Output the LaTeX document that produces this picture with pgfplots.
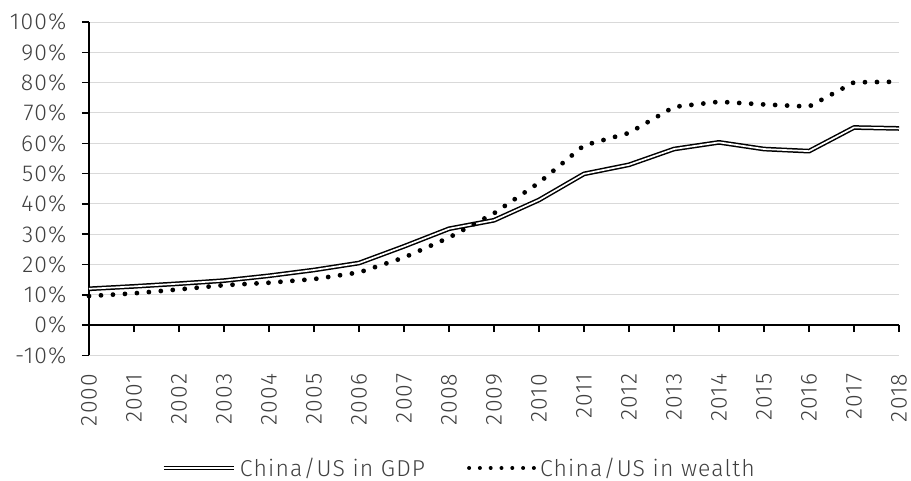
\documentclass[border=0pt]{standalone}
\usepackage{fontspec}
\setmainfont{Fira Sans}[UprightFont={* Light}, LetterSpace=5]
\usepackage{pgfplots}
\usepackage{pgfplotstable}
\pgfplotsset{compat=1.18}
\definecolor{txt}{HTML}{404040}
\definecolor{gridc}{HTML}{D9D9D9}
\pgfplotsset{
  gdpimg/.style={legend image code/.code={\draw[##1] (0pt,0pt) -- (70pt,0pt);}},
  wlthimg/.style={legend image code/.code={\draw[##1, line width=4pt, dash pattern=on 0pt off 10.8pt] (0pt,0pt) -- (65pt,0pt);}},
}
\pgfplotstableread{
year gdp wealth
2000 12.0 9.6
2001 12.8 10.5
2002 13.7 11.8
2003 14.7 13.2
2004 16.3 14.0
2005 18.2 15.2
2006 20.5 17.4
2007 26.0 22.3
2008 31.8 28.9
2009 34.6 36.9
2010 41.3 47.0
2011 49.9 59.3
2012 52.9 63.4
2013 58.1 72.0
2014 60.3 73.7
2015 58.1 72.8
2016 57.4 72.1
2017 65.2 80.1
2018 64.9 80.3
}\data
\begin{document}
\begin{tikzpicture}
\begin{axis}[
  at={(0pt,0pt)}, anchor=south west,
  scale only axis, width=810pt, height=333.5pt,
  xmin=2000, xmax=2018, ymin=-10, ymax=100,
  axis x line=middle, axis y line=left,
  axis line style={-, line width=1.5pt, black},
  hide obscured x ticks=false,
  hide obscured y ticks=false,
  tick align=outside,
  major tick length=7pt,
  tick style={line width=1.5pt, black},
  xtick={2000,2001,...,2018},
  xticklabels={2000,2001,2002,2003,2004,2005,2006,2007,2008,2009,2010,2011,2012,2013,2014,2015,2016,2017,2018},
  ytick={-10,0,10,20,30,40,50,60,70,80,90,100},
  yticklabels={-10\%,0\%,10\%,20\%,30\%,40\%,50\%,60\%,70\%,80\%,90\%,100\%},
  ymajorgrids, grid style={gridc, line width=0.9pt},
  tick label style={font=\fontsize{23}{27}\selectfont, text=txt},
  x tick label style={rotate=90, anchor=east},
  xticklabel shift=38pt,
  yticklabel shift=12pt,
  clip=false,
  legend columns=2,
  legend style={at={(0.0890,-0.3373)}, anchor=west, draw=none, fill=none,
    inner sep=0pt, font=\fontsize{23}{27}\selectfont, text=txt,
    nodes={inner sep=2pt},
    /tikz/every odd column/.append style={column sep=2pt},
    /tikz/every even column/.append style={column sep=40pt}},
]
\addplot[black, line width=1.5pt, double=white, double distance=1.7pt, line join=round, gdpimg]
  table[x=year, y=gdp] {\data};
\addlegendentry{China/US in GDP}
\addplot[black, line width=4.8pt, line cap=round, dash pattern=on 0pt off 12pt, wlthimg]
  table[x=year, y=wealth] {\data};
\addlegendentry{China/US in wealth}
\end{axis}
\pgfresetboundingbox
\path (-89pt,-125.5pt) rectangle (822pt,355.5pt);
\end{tikzpicture}
\end{document}
